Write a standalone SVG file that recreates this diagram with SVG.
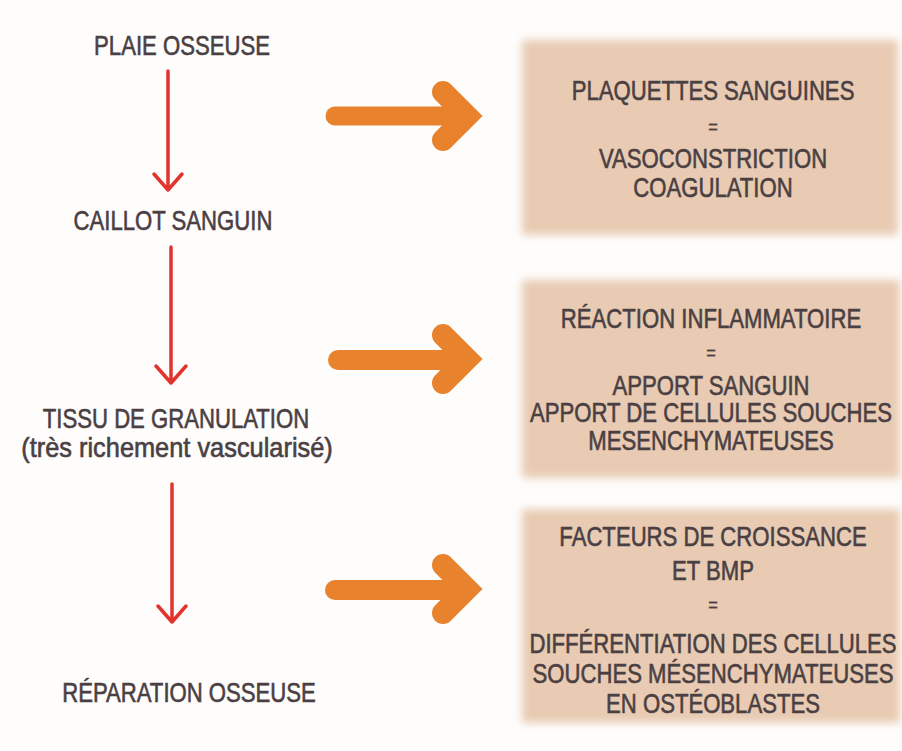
<svg xmlns="http://www.w3.org/2000/svg" width="902" height="751" viewBox="0 0 902 751">
<defs>
<filter id="soft" x="-5%" y="-5%" width="110%" height="110%"><feGaussianBlur stdDeviation="4"/></filter>
<style>
.t{font-family:"Liberation Sans",Arial,sans-serif;font-size:27px;fill:#4a4043;text-anchor:middle;stroke:#4a4043;stroke-width:0.6}
.eq{font-family:"Liberation Sans",Arial,sans-serif;font-size:20px;fill:#4a4043;text-anchor:middle;stroke:#4a4043;stroke-width:0.4}
.box{fill:#e8cbb2;filter:url(#soft)}
.red{stroke:#e2332c;stroke-width:3.5;fill:none;stroke-linecap:round;stroke-linejoin:round}
.or{stroke:#e8822c;fill:none}
</style>
</defs>
<rect width="902" height="751" fill="#fefdfc"/>

<g id="plaie"><text class="t" transform="translate(182 55) scale(0.82 1)">PLAIE OSSEUSE</text></g>
<g id="caillot"><text class="t" transform="translate(173 230) scale(0.82 1)">CAILLOT SANGUIN</text></g>
<g id="tissu">
<text class="t" transform="translate(176 428) scale(0.82 1)">TISSU DE GRANULATION</text>
<text class="t" transform="translate(177 457) scale(0.94 1)">(très richement vascularisé)</text>
</g>
<g id="reparation"><text class="t" transform="translate(189 702) scale(0.82 1)">RÉPARATION OSSEUSE</text></g>

<g id="box1">
<rect class="box" x="522" y="40" width="376" height="195"/>
<g transform="translate(713 0) scale(0.82 1)">
<text class="t" y="100">PLAQUETTES SANGUINES</text>
<text class="eq" y="134">=</text>
<text class="t" y="168">VASOCONSTRICTION</text>
<text class="t" y="197">COAGULATION</text>
</g>
</g>
<g id="box2">
<rect class="box" x="522" y="280" width="378" height="198"/>
<g transform="translate(711 0) scale(0.82 1)">
<text class="t" y="328">RÉACTION INFLAMMATOIRE</text>
<text class="eq" y="360">=</text>
<text class="t" y="395">APPORT SANGUIN</text>
<text class="t" y="422">APPORT DE CELLULES SOUCHES</text>
<text class="t" y="450">MESENCHYMATEUSES</text>
</g>
</g>
<g id="box3">
<rect class="box" x="522" y="509" width="378" height="214"/>
<g transform="translate(713 0) scale(0.82 1)">
<text class="t" y="546">FACTEURS DE CROISSANCE</text>
<text class="t" y="580">ET BMP</text>
<text class="eq" y="612">=</text>
<text class="t" y="653">DIFFÉRENTIATION DES CELLULES</text>
<text class="t" y="683">SOUCHES MÉSENCHYMATEUSES</text>
<text class="t" y="713">EN OSTÉOBLASTES</text>
</g>
</g>

<g id="connectors">
<path class="red" d="M168 71V190M154 174L168 190L182 174"/>
<path class="red" d="M171 247V383M156 366L171 383L186 366"/>
<path class="red" d="M172 484V622M158 606L172 622L186 606"/>
<g class="or">
<path d="M335 116H462" stroke-width="19" stroke-linecap="round"/>
<path d="M443 92L467 116L443 140" stroke-width="22" stroke-linecap="round" stroke-linejoin="miter"/>
<path d="M338 360H462" stroke-width="20" stroke-linecap="round"/>
<path d="M443 335L467 359L443 383" stroke-width="22" stroke-linecap="round" stroke-linejoin="miter"/>
<path d="M335 590H462" stroke-width="20" stroke-linecap="round"/>
<path d="M443 565L467 589L443 613" stroke-width="22" stroke-linecap="round" stroke-linejoin="miter"/>
</g>
</g>
</svg>
